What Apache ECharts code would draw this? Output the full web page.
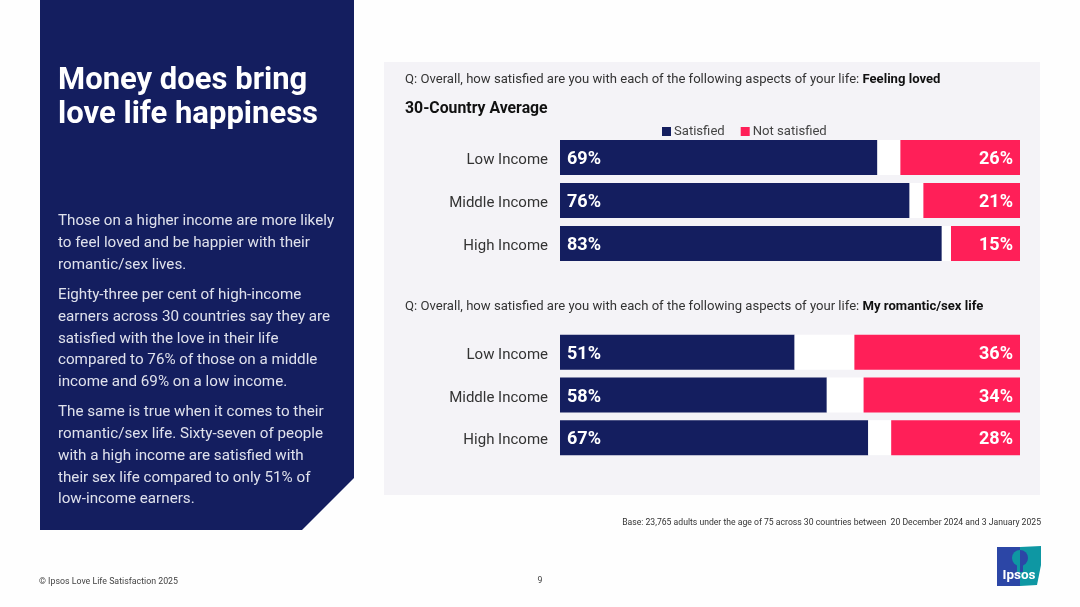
<!DOCTYPE html>
<html lang="en">
<head>
    <meta charset="UTF-8">
    <style>
        html, body { margin: 0; padding: 0; background: #fefefe; }
        #main { width: 1080px; height: 607px; }
    </style>
    <script src="https://cdn.jsdelivr.net/npm/echarts@6/dist/echarts.min.js"></script>
</head>
<body>
<div id="main"></div>
<script>
    var categories = ['Low Income', 'Middle Income', 'High Income'];

    // Feeling loved
    var lovedSatisfied = [69, 76, 83];
    var lovedGap = [5, 3, 2];
    var lovedNot = [26, 21, 15];

    // My romantic/sex life
    var sexSatisfied = [51, 58, 67];
    var sexGap = [13, 8, 5];
    var sexNot = [36, 34, 28];

    var titleLines = ['Money does bring', 'love life happiness'];
    var bodyLines = [
        'Those on a higher income are more likely',
        'to feel loved and be happier with their',
        'romantic/sex lives.',
        'Eighty-three per cent of high-income',
        'earners across 30 countries say they are',
        'satisfied with the love in their life',
        'compared to 76% of those on a middle',
        'income and 69% on a low income.',
        'The same is true when it comes to their',
        'romantic/sex life. Sixty-seven of people',
        'with a high income are satisfied with',
        'their sex life compared to only 51% of',
        'low-income earners.'
    ];
    var bodyLineY = [221, 243, 265, 295, 317, 339, 360, 382, 412, 434, 456, 478, 499];

    var NAVY = '#141e5f';
    var RED = '#ff1f58';
    var LOGO_BLUE = '#2c46a6';
    var LOGO_TEAL = '#0e97a3';
    var FONT = 'Roboto, "Noto Sans", sans-serif';

    var myChart = echarts.init(document.getElementById('main'));

    function barSeries(name, data, color, gridIdx, labelPos) {
        return {
            name: name,
            type: 'bar',
            stack: 's' + gridIdx,
            xAxisIndex: gridIdx,
            yAxisIndex: gridIdx,
            barWidth: 35,
            data: data,
            itemStyle: { color: color },
            silent: !labelPos,
            label: {
                show: !!labelPos,
                position: labelPos || 'inside',
                distance: 7,
                offset: [0, 2],
                formatter: '{c}%',
                color: '#fff',
                fontFamily: FONT,
                fontWeight: 'bold',
                fontSize: 18
            }
        };
    }

    function xAxis(gridIdx) {
        return { type: 'value', gridIndex: gridIdx, min: 0, max: 100, show: false };
    }

    function yAxis(gridIdx) {
        return {
            type: 'category',
            gridIndex: gridIdx,
            data: categories,
            inverse: true,
            axisLine: { show: false },
            axisTick: { show: false },
            // top-aligned with a short line box, drops the text about 3px below the bar centre
            axisLabel: { margin: 12, color: '#333', fontFamily: FONT, fontSize: 15, verticalAlign: 'top', lineHeight: 6 }
        };
    }

    function textItem(text, x, y, size, color, weight, align) {
        return {
            type: 'text',
            x: x,
            y: y,
            z: 5,
            style: {
                text: text,
                fill: color,
                fontFamily: FONT,
                fontSize: size,
                fontWeight: weight || 'normal',
                align: align || 'left',
                verticalAlign: 'middle'
            }
        };
    }

    function questionText(question, topic, y) {
        return {
            type: 'text',
            x: 405,
            y: y,
            z: 5,
            style: {
                text: '{q|' + question + '}{b|' + topic + '}',
                verticalAlign: 'middle',
                rich: {
                    q: { fill: '#333', fontFamily: FONT, fontSize: 13.1 },
                    b: { fill: '#111', fontFamily: FONT, fontSize: 13.1, fontWeight: 'bold' }
                }
            }
        };
    }

    var graphics = [
        { type: 'rect', z: 0, shape: { x: 384, y: 62, width: 656, height: 433 }, style: { fill: '#f4f3f7' } },
        { type: 'polygon', z: 0, shape: { points: [[40, 0], [354, 0], [354, 478], [302, 530], [40, 530]] }, style: { fill: NAVY } },
        textItem(titleLines[0], 58, 81, 31, '#fff', 'bold'),
        textItem(titleLines[1], 58, 115, 31, '#fff', 'bold'),
        questionText('Q: Overall, how satisfied are you with each of the following aspects of your life: ', 'Feeling loved', 80),
        textItem('30-Country Average', 405, 109, 15.8, '#111', 'bold'),
        questionText('Q: Overall, how satisfied are you with each of the following aspects of your life: ', 'My romantic/sex life', 307),
        textItem('Base: 23,765 adults under the age of 75 across 30 countries between  20 December 2024 and 3 January 2025', 1041, 523, 8.65, '#333', 'normal', 'right'),
        textItem('\u00a9 Ipsos Love Life Satisfaction 2025', 39, 582, 8.8, '#444'),
        textItem('9', 540, 581, 8.8, '#444', 'normal', 'center'),
        // Ipsos logo, the head shape swaps colours on each side of the split
        { type: 'polygon', z: 1, shape: { points: [[997, 547], [1020, 547], [1020, 586], [997, 586]] }, style: { fill: LOGO_BLUE } },
        { type: 'polygon', z: 1, shape: { points: [[1020, 547], [1041, 546], [1041, 565], [1037, 585], [1020, 586]] }, style: { fill: LOGO_TEAL } },
        { type: 'sector', z: 2, shape: { cx: 1020, cy: 558, r: 8, r0: 0, startAngle: Math.PI / 2, endAngle: Math.PI * 1.5 }, style: { fill: LOGO_TEAL } },
        { type: 'sector', z: 2, shape: { cx: 1020, cy: 558, r: 8, r0: 0, startAngle: -Math.PI / 2, endAngle: Math.PI / 2 }, style: { fill: LOGO_BLUE } },
        { type: 'rect', z: 2, shape: { x: 1017, y: 564, width: 3, height: 8 }, style: { fill: LOGO_TEAL } },
        { type: 'rect', z: 2, shape: { x: 1020, y: 564, width: 3, height: 8 }, style: { fill: LOGO_BLUE } },
        textItem('Ipsos', 1019, 576, 13.5, '#fff', 'bold', 'center')
    ];
    bodyLines.forEach(function (line, i) {
        graphics.push(textItem(line, 58, bodyLineY[i], 15.2, '#dfe1ec'));
    });

    var option = {
        animation: false,
        backgroundColor: '#fefefe',
        legend: {
            data: ['Satisfied', 'Not satisfied'],
            left: 662,
            top: 125,
            itemWidth: 9,
            itemHeight: 9,
            itemGap: 16,
            icon: 'rect',
            padding: 0,
            textStyle: { color: '#444', fontFamily: FONT, fontSize: 13.1, padding: [0, 0, 0, -2] }
        },
        grid: [
            { left: 560, width: 460, top: 136, height: 129 },
            { left: 560, width: 460, top: 331, height: 128 }
        ],
        xAxis: [xAxis(0), xAxis(1)],
        yAxis: [yAxis(0), yAxis(1)],
        series: [
            barSeries('Satisfied', lovedSatisfied, NAVY, 0, 'insideLeft'),
            barSeries('Gap', lovedGap, '#fff', 0),
            barSeries('Not satisfied', lovedNot, RED, 0, 'insideRight'),
            barSeries('Satisfied', sexSatisfied, NAVY, 1, 'insideLeft'),
            barSeries('Gap', sexGap, '#fff', 1),
            barSeries('Not satisfied', sexNot, RED, 1, 'insideRight')
        ],
        graphic: graphics
    };
    myChart.setOption(option);
</script>
</body>
</html>
